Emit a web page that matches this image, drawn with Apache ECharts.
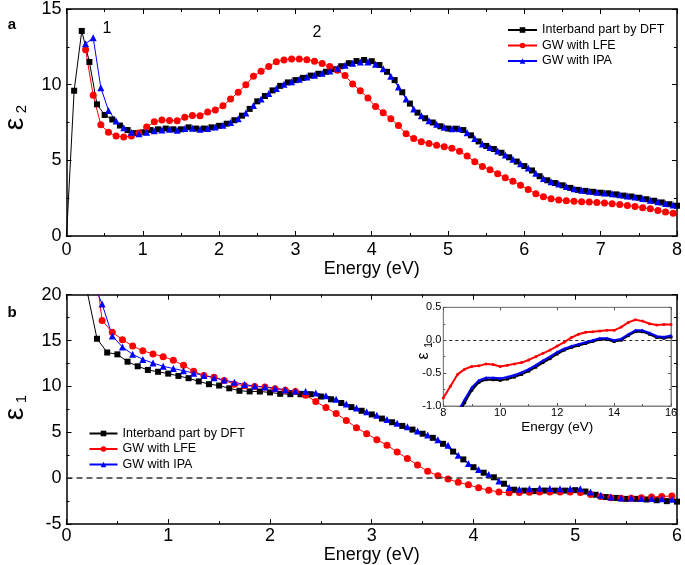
<!DOCTYPE html>
<html>
<head>
<meta charset="utf-8">
<script src="https://cdn.jsdelivr.net/npm/echarts@6/dist/echarts.min.js"></script>
<style>html,body{margin:0;padding:0;background:#fff}#c{width:685px;height:565px}</style>
</head>
<body>
<div id="c"></div>
<script>
// ---------- Panel a : epsilon_2 vs energy (eV) ----------
const aStep = 0.1;
const aDftStart = 0;      // Interband part by DFT
const aDft = [0, 9.6, 13.55, 11.5, 8.7, 8.0, 7.7, 7.3, 7.0, 6.8,
  6.85, 7.0, 7.05, 7.1, 7.05, 7.05, 7.18, 7.1, 7.1, 7.18,
  7.28, 7.42, 7.65, 7.95, 8.4, 8.9, 9.25, 9.62, 9.92, 10.15,
  10.3, 10.45, 10.6, 10.72, 10.85, 11.02, 11.22, 11.42, 11.56, 11.63,
  11.55, 11.3, 10.85, 10.3, 9.5, 8.75, 8.15, 7.78, 7.5, 7.25,
  7.1, 7.09, 7.0, 6.65, 6.25, 5.95, 5.75, 5.5, 5.2, 4.92,
  4.62, 4.33, 3.95, 3.68, 3.5, 3.35, 3.18, 3.05, 2.98, 2.92,
  2.86, 2.82, 2.75, 2.67, 2.61, 2.53, 2.43, 2.33, 2.22, 2.1, 2.0];
const aLfeStart = 0.25;   // GW with LFE
const aLfe = [12.3, 9.3, 7.35, 6.85, 6.6, 6.55, 6.6, 6.8, 7.2, 7.55,
  7.66, 7.63, 7.62, 7.85, 7.97, 7.95, 8.2, 8.32, 8.6, 9.05,
  9.5, 10.0, 10.55, 10.88, 11.2, 11.52, 11.63, 11.7, 11.7, 11.65,
  11.55, 11.4, 11.2, 10.95, 10.6, 10.05, 9.6, 9.12, 8.55, 8.15,
  7.75, 7.3, 6.75, 6.45, 6.22, 6.12, 6.0, 5.9, 5.8, 5.6,
  5.28, 4.9, 4.6, 4.38, 4.12, 3.85, 3.62, 3.36, 3.08, 2.8,
  2.6, 2.46, 2.38, 2.33, 2.3, 2.27, 2.24, 2.21, 2.18, 2.13,
  2.08, 2.02, 1.95, 1.87, 1.8, 1.68, 1.58, 1.5];
const aIpaStart = 0.25;   // GW with IPA
const aIpa = [12.7, 13.1, 9.8, 8.3, 7.6, 7.15, 6.85, 6.75, 6.85, 6.95,
  7.0, 7.05, 6.98, 7.1, 7.12, 7.05, 7.1, 7.2, 7.32, 7.5,
  7.75, 8.12, 8.62, 9.05, 9.42, 9.75, 10.02, 10.2, 10.36, 10.5,
  10.63, 10.76, 10.9, 11.08, 11.28, 11.42, 11.5, 11.5, 11.35, 11.05,
  10.55, 9.85, 9.05, 8.4, 7.95, 7.62, 7.38, 7.18, 7.08, 7.08,
  6.82, 6.45, 6.08, 5.85, 5.62, 5.36, 5.07, 4.78, 4.5, 4.15,
  3.8, 3.58, 3.43, 3.27, 3.12, 3.02, 2.95, 2.89, 2.84, 2.79,
  2.72, 2.64, 2.57, 2.48, 2.37, 2.27, 2.15, 2.05];

// ---------- Panel b : epsilon_1 vs energy (eV) ----------
const bStep = 0.1;
const bDftStart = 0.2;
const bDft = [20.5, 15.2, 13.7, 13.5, 12.7, 12.2, 11.8, 11.6, 11.4, 11.15,
  10.9, 10.55, 10.25, 10.1, 9.8, 9.53, 9.46, 9.45, 9.35, 9.2,
  9.16, 9.15, 9.15, 8.9, 8.6, 8.2, 7.75, 7.35, 6.95, 6.5,
  6.1, 5.7, 5.3, 4.85, 4.4, 3.75, 2.9, 2.05, 1.2, 0.6,
  0.1, -0.6, -1.25, -1.35, -1.4, -1.35, -1.35, -1.35, -1.3, -1.45,
  -1.8, -2.05, -2.15, -2.25, -2.25, -2.32, -2.4, -2.5, -2.55];
const bLfeStart = 0.25;
const bLfe = [26, 17.2, 15.9, 15.1, 14.4, 13.9, 13.55, 13.25, 12.85, 12.3,
  11.65, 11.2, 11.0, 10.65, 10.25, 10.08, 10.0, 9.93, 9.75, 9.6,
  9.45, 9.05, 8.35, 7.7, 7.05, 6.3, 5.5, 4.85, 4.2, 3.6,
  2.85, 2.15, 1.45, 0.75, 0.28, -0.08, -0.45, -0.72, -1.05, -1.3,
  -1.5, -1.58, -1.55, -1.52, -1.5, -1.5, -1.5, -1.5, -1.55, -1.78,
  -2.0, -2.12, -2.18, -2.18, -2.12, -2.05, -1.98, -1.95];
const bIpaStart = 0.25;
const bIpa = [21.6, 19.0, 15.5, 14.3, 13.5, 12.95, 12.55, 12.2, 11.95, 11.72,
  11.45, 11.2, 10.95, 10.7, 10.47, 10.2, 10.05, 9.95, 9.8, 9.65,
  9.5, 9.45, 9.3, 9.0, 8.6, 8.1, 7.65, 7.25, 6.85, 6.4,
  6.0, 5.6, 5.15, 4.7, 4.2, 3.6, 2.5, 1.6, 0.95, 0.4,
  -0.3, -1.0, -1.2, -1.15, -1.1, -1.12, -1.15, -1.15, -1.15, -1.5,
  -1.85, -2.05, -2.15, -2.15, -2.2, -2.2, -2.25, -2.3];

// ---------- Inset : epsilon_1, 8-16 eV ----------
const iStep = 0.25;
const iLfeStart = 8;
const iLfe = [-0.88, -0.7, -0.52, -0.44, -0.4, -0.39, -0.36, -0.37, -0.4, -0.38,
  -0.36, -0.34, -0.3, -0.25, -0.2, -0.15, -0.09, -0.03, 0.04, 0.09,
  0.12, 0.13, 0.14, 0.15, 0.15, 0.2, 0.27, 0.31, 0.29, 0.25,
  0.23, 0.24, 0.24];
const iIpaStart = 8.5;
const iIpa = [-1.1, -0.9, -0.72, -0.61, -0.57, -0.57, -0.58, -0.56, -0.53, -0.49,
  -0.44, -0.38, -0.31, -0.25, -0.18, -0.13, -0.09, -0.06, -0.03, 0.0,
  0.03, 0.03, 0.0, 0.02, 0.09, 0.15, 0.15, 0.11, 0.06, 0.05, 0.07];
const iDftStart = 8.5;
const iDft = [-1.15, -0.95, -0.76, -0.64, -0.6, -0.6, -0.61, -0.59, -0.56, -0.52,
  -0.47, -0.41, -0.34, -0.28, -0.21, -0.15, -0.11, -0.08, -0.05, -0.02,
  0.01, 0.01, -0.02, 0.0, 0.07, 0.13, 0.13, 0.09, 0.04, 0.03, 0.05];

const names = ['Interband part by DFT', 'GW with LFE', 'GW with IPA'];

// ---------- build ----------
const FONT = '"Liberation Sans", Arial, Helvetica, sans-serif';
function pairs(start, step, vals) {
  return vals.map((v, i) => [Math.round((start + i * step) * 1000) / 1000, v]);
}
const ST = {
  dft: { color: '#000000', symbol: 'rect', size: 6 },
  lfe: { color: '#ff0000', symbol: 'circle', size: 7 },
  ipa: { color: '#0000ff', symbol: 'triangle', size: 7 }
};
function line(name, data, xi, yi, st, extra) {
  return Object.assign({
    type: 'line', name: name, data: data, xAxisIndex: xi, yAxisIndex: yi,
    symbol: st.symbol, symbolSize: st.size, showSymbol: true, showAllSymbol: true,
    itemStyle: { color: st.color }, lineStyle: { color: st.color, width: 1 },
    clip: true, animation: false, emphasis: { disabled: true }, silent: true
  }, extra || {});
}

const aDftData = pairs(aDftStart, aStep, aDft);
aDftData[0] = { value: aDftData[0], symbol: 'none' };

const axisLine = { show: true, onZero: false, lineStyle: { color: '#000', width: 1.5 } };
const tick = { show: true, inside: true, length: 5, lineStyle: { color: '#000', width: 1 } };
const minor = { show: true, splitNumber: 2, length: 3, lineStyle: { color: '#000', width: 1 } };
const lbl = { fontSize: 18, color: '#000', fontFamily: FONT };

function xAx(grid, min, max, interval, pos, opts) {
  return Object.assign({
    type: 'value', gridIndex: grid, min: min, max: max, interval: interval, position: pos,
    axisLine: axisLine, axisTick: tick, minorTick: minor, splitLine: { show: false },
    minorSplitLine: { show: false }, axisLabel: { show: false }
  }, opts || {});
}

const iAxisLine = { show: true, onZero: false, lineStyle: { color: '#808080', width: 1 } };
const iTick = { show: true, inside: true, length: 3, lineStyle: { color: '#555', width: 1 } };
const iLbl = { fontSize: 11, color: '#000', fontFamily: FONT };

const option = {
  animation: false,
  backgroundColor: '#fff',
  textStyle: { fontFamily: FONT },
  grid: [
    { left: 66.5, top: 7.6, width: 613.5, height: 228.4 },
    { left: 66.5, top: 294.7, width: 613.5, height: 230 },
    { left: 443.3, top: 307.3, width: 227.7, height: 98.7, show: true,
      backgroundColor: '#fff', borderColor: '#808080', borderWidth: 1, z: 5 }
  ],
  xAxis: [
    xAx(0, 0, 8, 1, 'bottom', { axisLabel: Object.assign({ show: true, margin: 5 }, lbl),
      name: 'Energy (eV)', nameLocation: 'middle', nameGap: 17,
      nameTextStyle: { fontSize: 18, color: '#000', fontFamily: FONT } }),
    xAx(0, 0, 8, 1, 'top'),
    xAx(1, 0, 6, 1, 'bottom', { axisLabel: Object.assign({ show: true, margin: 3 }, lbl),
      name: 'Energy (eV)', nameLocation: 'middle', nameGap: 20,
      nameTextStyle: { fontSize: 18, color: '#000', fontFamily: FONT } }),
    xAx(1, 0, 6, 1, 'top'),
    xAx(2, 8, 16, 2, 'bottom', { axisLine: iAxisLine, axisTick: iTick,
      minorTick: { show: true, splitNumber: 2, length: 2, lineStyle: { color: '#555' } },
      axisLabel: Object.assign({ show: true, margin: 1 }, iLbl),
      name: 'Energy (eV)', nameLocation: 'middle', nameGap: 14,
      nameTextStyle: { fontSize: 13.5, color: '#000', fontFamily: FONT }, z: 6 }),
    xAx(2, 8, 16, 2, 'top', { axisLine: iAxisLine, axisTick: iTick, minorTick: { show: false }, z: 6 })
  ],
  yAxis: [
    xAx(0, 0, 15, 5, 'left', { axisLabel: Object.assign({ show: true, margin: 5 }, lbl) }),
    xAx(0, 0, 15, 5, 'right'),
    xAx(1, -5, 20, 5, 'left', { axisLabel: Object.assign({ show: true, margin: 5 }, lbl) }),
    xAx(1, -5, 20, 5, 'right'),
    xAx(2, -1, 0.5, 0.5, 'left', { axisLine: iAxisLine, axisTick: iTick,
      minorTick: { show: true, splitNumber: 2, length: 2, lineStyle: { color: '#555' } },
      axisLabel: Object.assign({ show: true, margin: 2, formatter: v => v.toFixed(1) }, iLbl), z: 6 }),
    xAx(2, -1, 0.5, 0.5, 'right', { axisLine: iAxisLine, axisTick: iTick,
      minorTick: { show: true, splitNumber: 2, length: 2, lineStyle: { color: '#555' } }, z: 6 })
  ],
  legend: [
    { data: names, orient: 'vertical', left: 507, top: 22.5, padding: 0,
      itemWidth: 29, itemHeight: 7, itemGap: 0.5, selectedMode: false,
      textStyle: { fontSize: 12.5, color: '#000', fontFamily: FONT, lineHeight: 15 } },
    { data: names, orient: 'vertical', left: 88.5, top: 426, padding: 0,
      itemWidth: 28, itemHeight: 7, itemGap: 0.5, selectedMode: false,
      textStyle: { fontSize: 12.5, color: '#000', fontFamily: FONT, lineHeight: 15 } }
  ],
  series: [
    line(names[0], aDftData, 0, 0, ST.dft),
    line(names[1], pairs(aLfeStart, aStep, aLfe), 0, 0, ST.lfe),
    line(names[2], pairs(aIpaStart, aStep, aIpa), 0, 0, ST.ipa),
    line(names[0], pairs(bDftStart, bStep, bDft), 2, 2, ST.dft, {
      markLine: { silent: true, symbol: ['none', 'none'], label: { show: false },
        lineStyle: { color: '#333', type: [6, 4], width: 1.5 }, data: [{ yAxis: 0 }] } }),
    line(names[1], pairs(bLfeStart, bStep, bLfe), 2, 2, ST.lfe),
    line(names[2], pairs(bIpaStart, bStep, bIpa), 2, 2, ST.ipa),
    line('inset DFT', pairs(iDftStart, iStep, iDft), 4, 4,
      { color: '#000', symbol: 'rect', size: 3 }, { z: 7, lineStyle: { color: '#000', width: 2 },
      markLine: { silent: true, symbol: ['none', 'none'], label: { show: false },
        lineStyle: { color: '#223', type: [3, 3], width: 1 }, data: [{ yAxis: 0 }] } }),
    line('inset IPA', pairs(iIpaStart, iStep, iIpa), 4, 4,
      { color: '#0000ff', symbol: 'triangle', size: 3.5 }, { z: 7, lineStyle: { color: '#0000ff', width: 2 } }),
    line('inset LFE', pairs(iLfeStart, iStep, iLfe), 4, 4,
      { color: '#ff0000', symbol: 'circle', size: 3 }, { z: 7, lineStyle: { color: '#ff0000', width: 2 } })
  ],
  graphic: [
    { type: 'text', x: 12, y: 25, style: { text: 'a', font: 'bold 15px ' + FONT, fill: '#000', align: 'center', verticalAlign: 'middle' } },
    { type: 'text', x: 12, y: 313, style: { text: 'b', font: 'bold 15px ' + FONT, fill: '#000', align: 'center', verticalAlign: 'middle' } },
    { type: 'text', x: 107, y: 29, style: { text: '1', font: '16px ' + FONT, fill: '#000', align: 'center', verticalAlign: 'middle' } },
    { type: 'text', x: 317, y: 33, style: { text: '2', font: '16px ' + FONT, fill: '#000', align: 'center', verticalAlign: 'middle' } },
    { type: 'text', x: 15, y: 124, rotation: Math.PI / 2, style: { text: 'ε', font: '28px ' + FONT, fill: '#000', align: 'center', verticalAlign: 'middle' } },
    { type: 'text', x: 22, y: 109, rotation: Math.PI / 2, style: { text: '2', font: '15px ' + FONT, fill: '#000', align: 'center', verticalAlign: 'middle' } },
    { type: 'text', x: 15, y: 414, rotation: Math.PI / 2, style: { text: 'ε', font: '28px ' + FONT, fill: '#000', align: 'center', verticalAlign: 'middle' } },
    { type: 'text', x: 22, y: 399, rotation: Math.PI / 2, style: { text: '1', font: '15px ' + FONT, fill: '#000', align: 'center', verticalAlign: 'middle' } },
    { type: 'text', x: 424, y: 356, z: 10, rotation: Math.PI / 2, style: { text: 'ε', font: '16px ' + FONT, fill: '#000', align: 'center', verticalAlign: 'middle' } },
    { type: 'text', x: 429, y: 345, z: 10, rotation: Math.PI / 2, style: { text: '1', font: '10px ' + FONT, fill: '#000', align: 'center', verticalAlign: 'middle' } }
  ]
};

const chart = echarts.init(document.getElementById('c'), null, { renderer: 'canvas' });
chart.setOption(option);
</script>
</body>
</html>
